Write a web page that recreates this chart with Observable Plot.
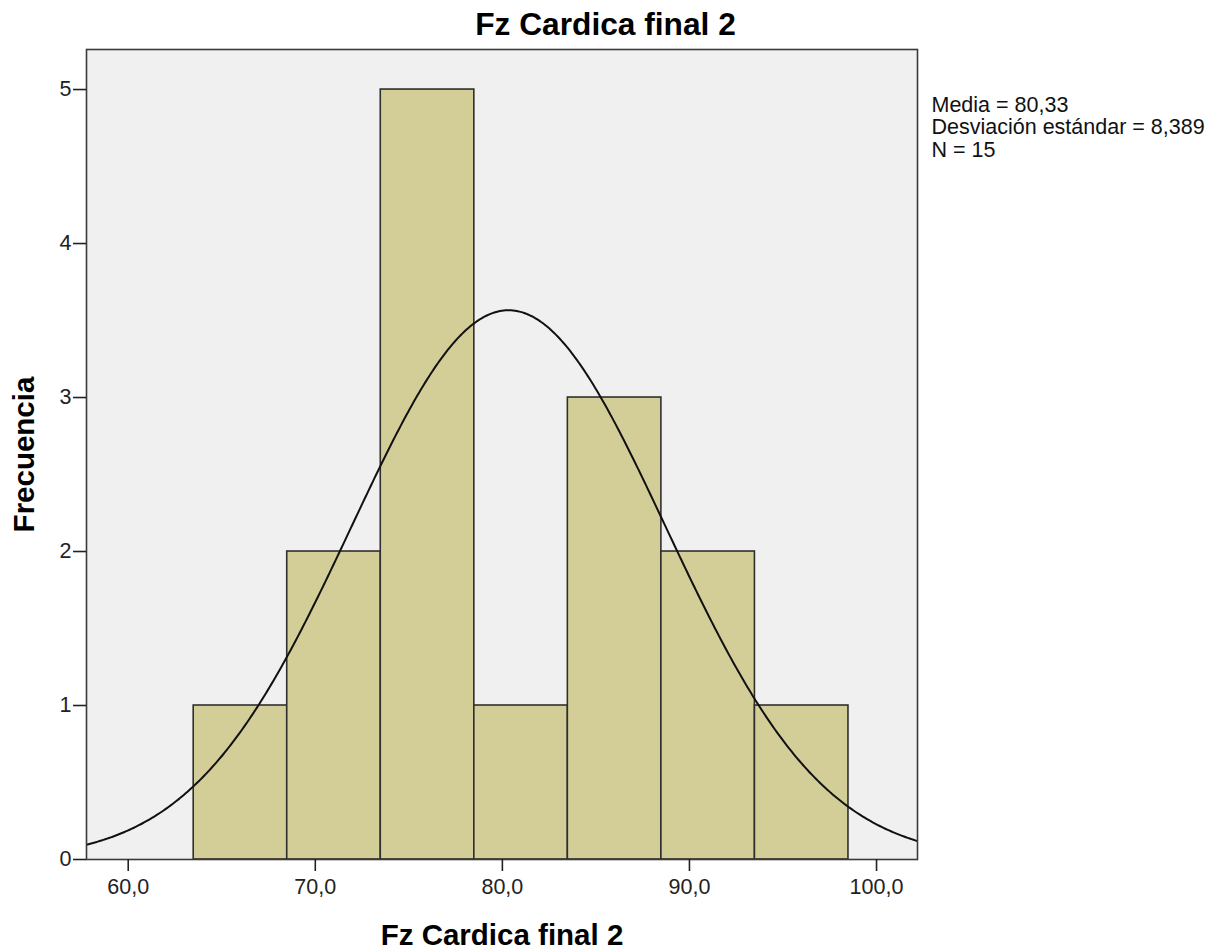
<!DOCTYPE html>
<html>
<head>
<meta charset="utf-8">
<script src="https://cdn.jsdelivr.net/npm/d3@7"></script>
<script src="https://cdn.jsdelivr.net/npm/@observablehq/plot@0.6"></script>
<style>
  html, body { margin: 0; padding: 0; background: #fff; }
  #chart svg { display: block; }
</style>
</head>
<body>
<div id="chart"></div>
<script>
// ---- data ----
const binStarts = [63.5, 68.5, 73.5, 78.5, 83.5, 88.5, 93.5];
const counts = [1, 2, 5, 1, 3, 2, 1];
const binWidth = 5;
const xTicks = [60, 70, 80, 90, 100];
const yTicks = [0, 1, 2, 3, 4, 5];
const statLabels = ["Media", "Desviación estándar", "N"];
const statValues = ["80,33", "8,389", "15"];
const mean = 80.33, sd = 8.389, n = 15;
const titleText = "Fz Cardica final 2";
const xLabel = "Fz Cardica final 2";
const yLabel = "Frecuencia";

const bars = binStarts.map((s, i) => ({x1: s, x2: s + binWidth, y: counts[i]}));
const xDomain = [57.77, 102.19];
// fitted normal curve from the stated mean, sd and N
const curve = d3.range(xDomain[0] - 0.5, xDomain[1] + 0.5, 0.1).map(x => ({
  x,
  y: n * binWidth * Math.exp(-0.5 * ((x - mean) / sd) ** 2) / (sd * Math.sqrt(2 * Math.PI))
}));
const statText = statLabels.map((l, i) => `${l} = ${statValues[i]}`).join("\n");
const fmt = d => d.toFixed(1).replace(".", ",");

const chart = Plot.plot({
  width: 1222,
  height: 949,
  marginLeft: 86,
  marginRight: 305,
  marginTop: 49,
  marginBottom: 90,
  style: {fontFamily: "'Liberation Sans', Arial, sans-serif", background: "#fff", color: "#222"},
  x: {domain: xDomain},
  y: {domain: [0, 5.26]},
  marks: [
    Plot.frame({fill: "#f0f0f0", stroke: null}),
    Plot.rect(bars, {x1: "x1", x2: "x2", y1: 0, y2: "y", fill: "#d3ce97", stroke: "#2f2f2f", strokeWidth: 1.6}),
    Plot.line(curve, {x: "x", y: "y", stroke: "#111", strokeWidth: 2, clip: true, curve: "linear"}),
    Plot.frame({stroke: "#3a3a3a", strokeWidth: 1.6}),
    Plot.axisX({ticks: xTicks, tickFormat: fmt, tickSize: 12, tickPadding: 7, fontSize: 21.5, label: null, stroke: "#222", strokeWidth: 1.6}),
    Plot.axisY({ticks: yTicks, tickFormat: d => String(d), tickSize: 13, tickPadding: 2, fontSize: 21.5, label: null, stroke: "#222", strokeWidth: 1.6}),
    Plot.text([titleText], {frameAnchor: "top", dx: 103.5, dy: -15, lineAnchor: "bottom", fontSize: 31.7, fontWeight: "bold", fill: "#000"}),
    Plot.text([xLabel], {frameAnchor: "bottom", dy: 85, lineAnchor: "bottom", fontSize: 29.5, fontWeight: "bold", fill: "#000"}),
    Plot.text([yLabel], {frameAnchor: "left", dx: -53, rotate: -90, textAnchor: "middle", lineAnchor: "bottom", fontSize: 29.5, fontWeight: "bold", fill: "#000"}),
    Plot.text([statText], {frameAnchor: "top-right", dx: 14, dy: 46.2, textAnchor: "start", lineAnchor: "top", lineHeight: 1.05, fontSize: 21.5, fill: "#111"})
  ]
});
document.getElementById("chart").appendChild(chart);
</script>
</body>
</html>
